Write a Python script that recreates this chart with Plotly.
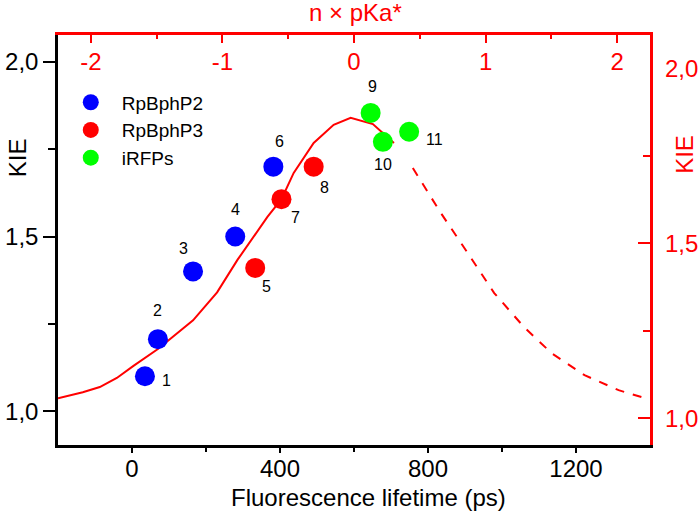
import plotly.graph_objects as go

# measured points (fluorescence lifetime in ps, KIE)
rpb2_x = [35, 70, 165, 279, 382]
rpb2_y = [1.10, 1.206, 1.40, 1.50, 1.70]
rpb2_lab = ['1', '2', '3', '4', '6']

rpb3_x = [333, 404, 491]
rpb3_y = [1.41, 1.607, 1.70]
rpb3_lab = ['5', '7', '8']

irfp_x = [645, 678, 749]
irfp_y = [1.854, 1.771, 1.80]
irfp_lab = ['9', '10', '11']

# fit curve (solid) and its extrapolation (dashed)
fit_x = [-200, -133, -87, -41, 3, 70, 165, 230, 285, 366, 404, 437, 491, 545, 591, 651, 708]
fit_y = [1.037, 1.054, 1.069, 1.095, 1.129, 1.178, 1.26, 1.34, 1.433, 1.556, 1.607, 1.682, 1.768, 1.82, 1.84, 1.822, 1.768]
ext_x = [759, 835, 911, 979, 1060, 1134, 1223, 1315, 1378, 1400]
ext_y = [1.696, 1.567, 1.447, 1.338, 1.24, 1.166, 1.103, 1.06, 1.04, 1.037]

kie_ticks = [1.0, 1.5, 2.0]
kie_text = ['1,0', '1,5', '2,0']
pka_ticks = [-2, -1, 0, 1, 2]
pka_text = ['-2', '-1', '0', '1', '2']

# label offsets (px) for the point numbers
offsets = {'1': (22, -4), '2': (0, 29), '3': (-10, 23), '4': (0, 27), '5': (11, -19),
           '6': (6, 25), '7': (14, -18), '8': (11, -21), '9': (2, 26), '10': (0, -23),
           '11': (25, -8)}

FONT = 'Arial, Liberation Sans, sans-serif'
RED = '#ff0000'
TICK = 24
TITLE = 24

fig = go.Figure()

fig.add_trace(go.Scatter(x=fit_x, y=fit_y, mode='lines', line=dict(color=RED, width=2),
                         showlegend=False, hoverinfo='skip'))
fig.add_trace(go.Scatter(x=ext_x, y=ext_y, mode='lines', line=dict(color=RED, width=2, dash='dash'),
                         showlegend=False, hoverinfo='skip'))

for name, xs, ys, col in [('RpBphP2', rpb2_x, rpb2_y, '#0000ff'),
                          ('RpBphP3', rpb3_x, rpb3_y, '#ff0000'),
                          ('iRFPs', irfp_x, irfp_y, '#00ff00')]:
    fig.add_trace(go.Scatter(x=xs, y=ys, mode='markers', name=name,
                             marker=dict(color=col, size=20, line=dict(width=0))))

# dummy trace to create the red top / right axes
fig.add_trace(go.Scatter(x=[0], y=[1.5], xaxis='x2', yaxis='y2', mode='markers',
                         marker=dict(opacity=0), showlegend=False, hoverinfo='skip'))

for xs, ys, labs in [(rpb2_x, rpb2_y, rpb2_lab), (rpb3_x, rpb3_y, rpb3_lab), (irfp_x, irfp_y, irfp_lab)]:
    for x, y, t in zip(xs, ys, labs):
        dx, dy = offsets[t]
        fig.add_annotation(x=x, y=y, text=t, showarrow=False, xshift=dx, yshift=dy,
                           font=dict(family=FONT, size=16, color='black'))

# right axis tick labels (plotly hides the top one next to the inside top labels)
for v, t in zip(kie_ticks, kie_text):
    fig.add_annotation(x=1, y=v, xref='paper', yref='y2', text=t, showarrow=False,
                       xanchor='left', yanchor='middle', xshift=13,
                       font=dict(size=TICK, color=RED))

# axis titles as annotations (paper coords)
titles = [('Fluorescence lifetime (ps)', 0.524, -0.129, 0, 'black'),
          ('KIE', -0.069, 0.70, -90, 'black'),
          ('n × pKa*', 0.502, 1.056, 0, RED),
          ('KIE', 1.059, 0.71, -90, RED)]
for txt, px, py, ang, col in titles:
    fig.add_annotation(x=px, y=py, xref='paper', yref='paper', text=txt, textangle=ang,
                       xanchor='center', yanchor='middle', showarrow=False,
                       font=dict(size=TITLE, color=col))

fig.update_layout(
    width=700, height=517,
    margin=dict(l=58, r=50, t=35, b=72),
    plot_bgcolor='white', paper_bgcolor='white',
    font=dict(family=FONT, size=TICK, color='black'),
    xaxis=dict(range=[-200, 1400], tickvals=[0, 400, 800, 1200], showgrid=False, zeroline=False,
               showline=True, linecolor='black', linewidth=2.5, ticks='outside', ticklen=5,
               tickwidth=2, tickcolor='black', automargin=False, ticklabelstandoff=-5,
               minor=dict(tickvals=[200, 600, 1000], ticklen=4, tickwidth=2, ticks='outside', tickcolor='black'),
               tickfont=dict(size=TICK)),
    yaxis=dict(range=[0.903, 2.077], tickvals=kie_ticks, ticktext=kie_text, showgrid=False, zeroline=False,
               showline=True, linecolor='black', linewidth=2.5, ticks='outside', ticklen=12,
               tickwidth=2, tickcolor='black', automargin=False,
               minor=dict(tickvals=[1.25, 1.75], ticklen=7, tickwidth=2, ticks='outside', tickcolor='black'),
               tickfont=dict(size=TICK)),
    xaxis2=dict(range=[-2.25, 2.25], overlaying='x', side='top', tickvals=pka_ticks, ticktext=pka_text,
                showgrid=False, zeroline=False, showline=True, linecolor=RED, linewidth=2.5,
                ticks='inside', ticklen=8, tickwidth=2, tickcolor=RED, ticklabelposition='inside',
                automargin=False, ticklabelstandoff=12,
                minor=dict(tickvals=[-1.5, -0.5, 0.5, 1.5], ticklen=4, tickwidth=2, ticks='inside', tickcolor=RED),
                tickfont=dict(color=RED, size=TICK)),
    yaxis2=dict(range=[0.923, 2.097], overlaying='y', side='right', tickvals=kie_ticks,
                showticklabels=False,
                showgrid=False, zeroline=False, showline=True, linecolor=RED, linewidth=2.5,
                ticks='inside', ticklen=12, tickwidth=2, tickcolor=RED, automargin=False,
                minor=dict(tickvals=[1.25, 1.75], ticklen=7, tickwidth=2, ticks='inside', tickcolor=RED)),
    legend=dict(x=0.003, y=0.882, xanchor='left', yanchor='top', bgcolor='rgba(0,0,0,0)',
                font=dict(size=19), itemsizing='trace', itemwidth=52, tracegroupgap=0),
)

# page body margin off, so the figure sits at the window's corner
fig.write_html("out.html", config={'displayModeBar': False},
               post_script="document.body.style.margin='0';")
